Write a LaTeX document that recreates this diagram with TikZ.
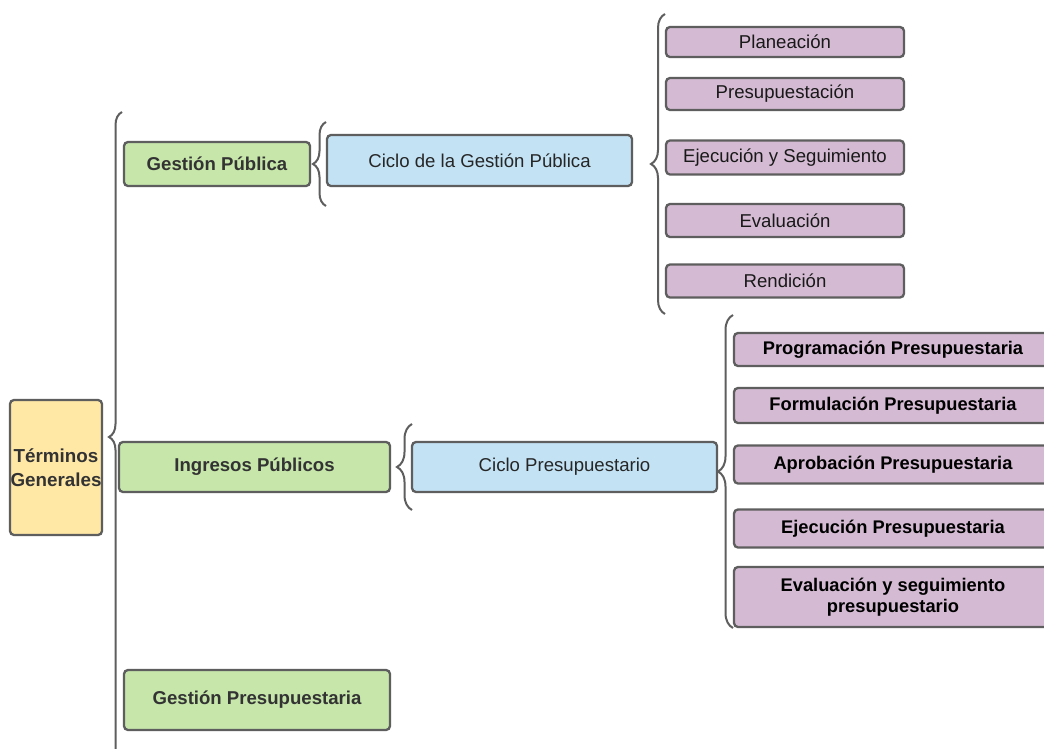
\documentclass[tikz,border=0pt]{standalone}
\usepackage{fontspec}
\setmainfont{Liberation Sans}
\usetikzlibrary{decorations.pathreplacing}

\definecolor{lineagris}{HTML}{5E5E5E}
\definecolor{textogris}{HTML}{333333}
\definecolor{amarillo}{HTML}{FFE8A6}
\definecolor{verde}{HTML}{C6E6AA}
\definecolor{celeste}{HTML}{C3E3F5}
\definecolor{lila}{HTML}{D4BBD3}

\tikzset{
  caja/.style={draw=lineagris, line width=2.3pt, rounded corners=4pt, align=center,
    inner sep=0pt, font=\fontsize{18.6}{22}\selectfont},
  raiz/.style={caja, fill=amarillo, text=textogris, font=\fontsize{18.8}{24}\selectfont\bfseries},
  tema/.style={caja, fill=verde, text=textogris, font=\fontsize{18.6}{22}\selectfont\bfseries},
  ciclo/.style={caja, fill=celeste, text=black!85},
  etapa/.style={caja, fill=lila, text=black!90, minimum width=238pt},
  etapab/.style={caja, fill=lila, text=black, minimum width=318pt, font=\fontsize{18.3}{21}\selectfont\bfseries},
  llave/.style={draw=lineagris, line width=2pt, decorate, decoration={brace, amplitude=#1}}
}

\begin{document}
\begin{tikzpicture}[x=1pt,y=-1pt]
  \useasboundingbox (0,0) rectangle (1044,749);
  \fill[white] (0,0) rectangle (1044,749);
  \clip (0,0) rectangle (1044,749);

  \coordinate (A1) at (122,762);
  \coordinate (A2) at (122,112);
  \coordinate (B1) at (326,206);
  \coordinate (B2) at (326,122);
  \coordinate (C1) at (665,314);
  \coordinate (C2) at (665,14);
  \coordinate (D1) at (412,510);
  \coordinate (D2) at (412,424);
  \coordinate (E1) at (733,628);
  \coordinate (E2) at (733,315);

  \node[raiz, minimum width=92pt, minimum height=135pt] (tg) at (56,467.5) {Términos\\Generales};

  \node[tema, minimum width=186pt, minimum height=44pt] (gp) at (217,164) {Gestión Pública};
  \node[tema, minimum width=271pt, minimum height=50pt] (ip) at (254.5,467) {Ingresos Públicos};
  \node[tema, minimum width=266pt, minimum height=60pt] (gpr) at (257,700) {Gestión Presupuestaria};

  \node[ciclo, minimum width=305pt, minimum height=51pt] (cgp) at (479.5,160.5) {Ciclo de la Gestión Pública};
  \node[ciclo, minimum width=305pt, minimum height=50pt] (cp) at (564.5,467) {Ciclo Presupuestario};

  \node[etapa, minimum height=30pt] (pla) at (785,42) {Planeación};
  \node[etapa, minimum height=32pt] (pre) at (785,94) {Presupuestación};
  \node[etapa, minimum height=34pt] (eje) at (785,157.5) {Ejecución y Seguimiento};
  \node[etapa, minimum height=33pt] (eva) at (785,220.5) {Evaluación};
  \node[etapa, minimum height=33pt] (ren) at (785,281) {Rendición};

  \node[etapab, minimum height=33pt] (prog) at (893,349.5) {Programación Presupuestaria};
  \node[etapab, minimum height=35pt] (form) at (893,405.5) {Formulación Presupuestaria};
  \node[etapab, minimum height=38pt] (apro) at (893,464.5) {Aprobación Presupuestaria};
  \node[etapab, minimum height=38pt] (ejec) at (893,528.5) {Ejecución Presupuestaria};
  \node[etapab, minimum height=60pt] (eval) at (893,597) {Evaluación y seguimiento\\presupuestario};

  \draw[llave=13pt] (A1) -- (A2);
  \draw[llave=13pt] (B1) -- (B2);
  \draw[llave=14pt] (C1) -- (C2);
  \draw[llave=15pt] (D1) -- (D2);
  \draw[llave=15pt] (E1) -- (E2);
\end{tikzpicture}
\end{document}
